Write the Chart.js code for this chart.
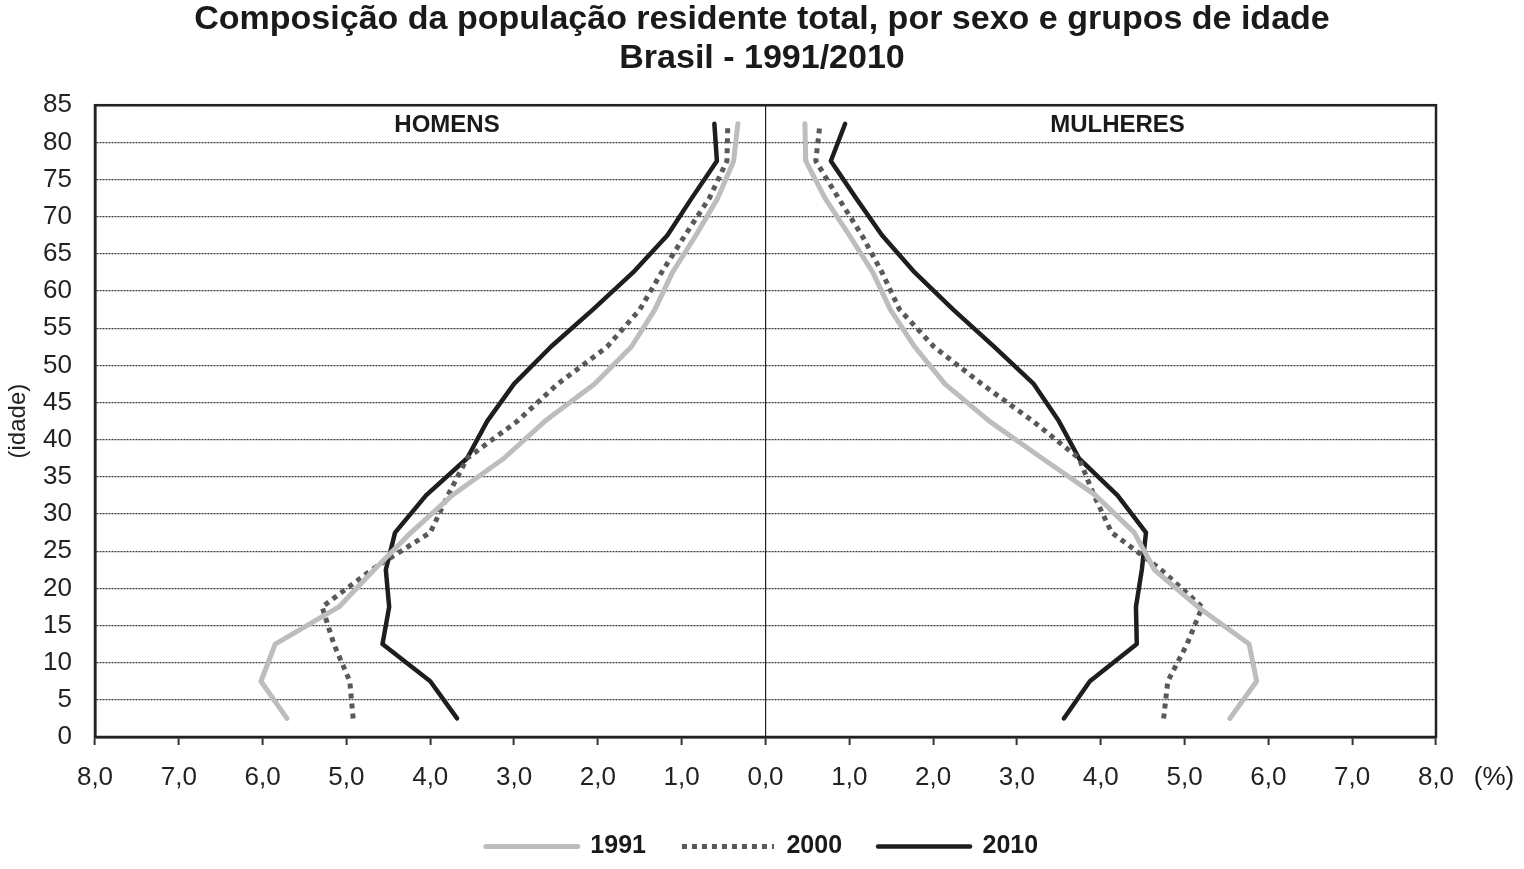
<!DOCTYPE html>
<html>
<head>
<meta charset="utf-8">
<script src="https://cdn.jsdelivr.net/npm/chart.js@4.4.1/dist/chart.umd.min.js"></script>
<style>
  html, body { margin: 0; padding: 0; background: #fff; }
  #wrap { width: 1524px; height: 869px; }
</style>
</head>
<body>
<div id="wrap"><canvas id="pyramid" width="1524" height="869"></canvas></div>
<script>
// midpoints of the 5-year age groups (0-4 ... 80+)
const ageMid = [2.5, 7.5, 12.5, 17.5, 22.5, 27.5, 32.5, 37.5, 42.5, 47.5, 52.5, 57.5, 62.5, 67.5, 72.5, 77.5, 82.5];
const years = ['1991', '2000', '2010'];

// share of total population (%), men
const men1991 = [5.71, 6.02, 5.85, 5.09, 4.67, 4.23, 3.74, 3.12, 2.63, 2.04, 1.60, 1.32, 1.11, 0.83, 0.57, 0.38, 0.33];
const men2000 = [4.92, 4.96, 5.15, 5.29, 4.70, 4.00, 3.79, 3.56, 2.96, 2.48, 1.89, 1.50, 1.24, 0.96, 0.67, 0.46, 0.45];
const men2010 = [3.68, 4.00, 4.57, 4.49, 4.53, 4.42, 4.05, 3.56, 3.32, 3.00, 2.56, 2.06, 1.58, 1.17, 0.88, 0.58, 0.61];
// women
const women1991 = [5.54, 5.86, 5.77, 5.16, 4.64, 4.40, 3.94, 3.30, 2.67, 2.14, 1.78, 1.49, 1.28, 1.00, 0.71, 0.48, 0.47];
const women2000 = [4.75, 4.80, 5.03, 5.21, 4.72, 4.13, 3.92, 3.74, 3.19, 2.58, 2.01, 1.60, 1.39, 1.15, 0.87, 0.60, 0.65];
const women2010 = [3.56, 3.87, 4.43, 4.42, 4.49, 4.54, 4.20, 3.74, 3.50, 3.20, 2.73, 2.24, 1.78, 1.39, 1.08, 0.78, 0.95];

const menSeries = [men1991, men2000, men2010];
const womenSeries = [women1991, women2000, women2010];

const FONT = "'Liberation Sans', Arial, sans-serif";
const styles = [
  { borderColor: '#bdbdbd', borderWidth: 5, borderCapStyle: 'round' },
  { borderColor: '#595959', borderWidth: 5, borderDash: [5, 5], borderCapStyle: 'butt' },
  { borderColor: '#1e1e1e', borderWidth: 4.5, borderCapStyle: 'round' }
];

function makeSet(year, i, values, sign) {
  return Object.assign({
    label: year,
    data: ageMid.map((a, k) => ({ x: sign * values[k], y: a })),
    showLine: true,
    pointRadius: 0,
    pointHoverRadius: 0,
    tension: 0,
    borderJoinStyle: 'round'
  }, styles[i]);
}

const datasets = years.map((yr, i) => makeSet(yr, i, menSeries[i], -1))
  .concat(years.map((yr, i) => makeSet(yr, i, womenSeries[i], 1)));

// frame, panel names and the (%) unit
const extras = {
  id: 'extras',
  afterDatasetsDraw(chart) {
    const { ctx, chartArea: a, scales: { x, y } } = chart;
    ctx.save();
    ctx.strokeStyle = '#222';
    ctx.lineWidth = 2.5;
    ctx.strokeRect(a.left, a.top, a.right - a.left, a.bottom - a.top);
    ctx.fillStyle = '#1a1a1a';
    ctx.textAlign = 'center';
    ctx.textBaseline = 'middle';
    ctx.font = 'bold 24px ' + FONT;
    ctx.fillText('HOMENS', x.getPixelForValue(-3.8), y.getPixelForValue(82.3));
    ctx.fillText('MULHERES', x.getPixelForValue(4.2), y.getPixelForValue(82.3));
    ctx.font = '26px ' + FONT;
    ctx.fillText('(%)', a.right + 58, a.bottom + 41);
    ctx.restore();
  }
};

Chart.defaults.font.family = FONT;
Chart.defaults.color = '#222';

new Chart(document.getElementById('pyramid'), {
  type: 'scatter',
  data: { datasets: datasets },
  plugins: [extras],
  options: {
    responsive: false,
    animation: false,
    layout: { padding: 0 },
    plugins: {
      title: {
        display: true,
        text: ['Composição da população residente total, por sexo e grupos de idade', 'Brasil - 1991/2010'],
        color: '#1a1a1a',
        font: { size: 34, weight: 'bold', lineHeight: 1.15 },
        padding: { top: 0, bottom: 27 }
      },
      legend: {
        position: 'bottom',
        maxHeight: 72,
        labels: {
          filter: (item) => item.datasetIndex < 3,
          generateLabels: (chart) => {
            const items = Chart.defaults.plugins.legend.labels.generateLabels(chart);
            items.forEach((it) => {
              const ds = chart.data.datasets[it.datasetIndex];
              it.strokeStyle = ds.borderColor;
              it.lineWidth = ds.borderWidth;
              it.lineDash = ds.borderDash || [];
              it.lineCap = ds.borderCapStyle;
            });
            return items;
          },
          usePointStyle: true,
          pointStyle: 'line',
          pointStyleWidth: 92,
          padding: 36,
          color: '#1a1a1a',
          font: { size: 25, weight: 'bold' }
        }
      },
      tooltip: { enabled: false }
    },
    scales: {
      x: {
        type: 'linear',
        min: -8,
        max: 8,
        afterFit: (s) => { s.height = 61; },
        ticks: {
          stepSize: 1,
          padding: 17,
          font: { size: 26 },
          callback: (v) => Math.abs(v).toFixed(1).replace('.', ',')
        },
        grid: {
          color: (c) => (c.tick && c.tick.value === 0 ? '#222' : 'rgba(0,0,0,0)'),
          lineWidth: 1.2,
          tickColor: '#333',
          tickWidth: 2,
          tickLength: 8
        },
        border: { color: '#222', width: 2.5 }
      },
      y: {
        type: 'linear',
        min: 0,
        max: 85,
        afterFit: (s) => { s.width = 95; },
        ticks: { stepSize: 5, padding: 23, font: { size: 26 } },
        grid: { color: '#3a3a3a', lineWidth: 1.3, drawTicks: false },
        border: { color: '#222', width: 2.5, dash: [2, 1] },
        title: { display: true, text: '(idade)', font: { size: 24 }, padding: { top: 4, bottom: 0 } }
      },
      // empty strip on the right, holds the (%) unit
      spacer: {
        type: 'linear',
        position: 'right',
        afterFit: (s) => { s.width = 88; },
        ticks: { display: false },
        grid: { display: false },
        border: { display: false }
      }
    }
  }
});
</script>
</body>
</html>
